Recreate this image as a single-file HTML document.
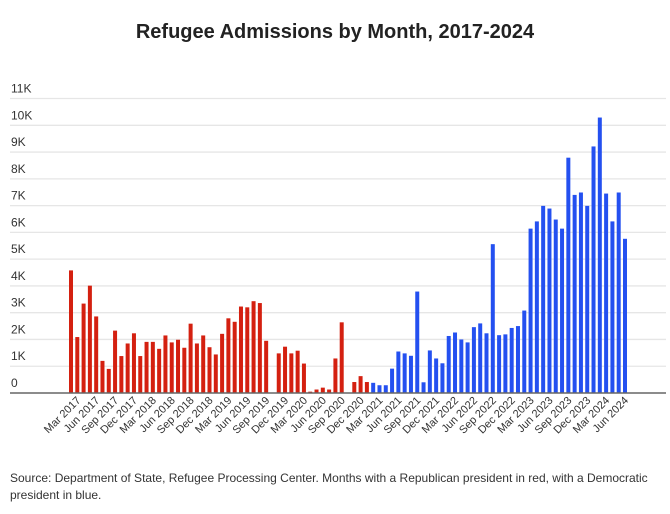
<!DOCTYPE html>
<html><head><meta charset="utf-8"><style>
body{margin:0;background:#fff;width:670px;height:509px;overflow:hidden;font-family:"Liberation Sans",sans-serif}
</style></head><body>
<svg id="c" width="670" height="509" xmlns="http://www.w3.org/2000/svg">
<text x="335" y="38" text-anchor="middle" font-size="20" font-weight="bold" fill="#222">Refugee Admissions by Month, 2017-2024</text>
<g id="grid"></g><g id="bars"></g><g id="xl"></g>
<text x="10" y="482" font-size="12" fill="#333">Source: Department of State, Refugee Processing Center. Months with a Republican president in red, with a Democratic</text>
<text x="10" y="499" font-size="12" fill="#333">president in blue.</text>
</svg>
<script>
const startYear=2017, startMonth=1; // Feb 2017 (0-indexed month)
const values=[4.58,2.09,3.34,4.01,2.86,1.2,0.9,2.33,1.38,1.85,2.23,1.38,1.91,1.91,1.65,2.15,1.89,1.99,1.69,2.59,1.85,2.15,1.71,1.44,2.21,2.79,2.66,3.23,3.2,3.43,3.36,1.95,0,1.48,1.73,1.48,1.58,1.1,0.05,0.13,0.2,0.13,1.29,2.64,0,0.41,0.63,0.41,0.38,0.29,0.29,0.91,1.55,1.48,1.39,3.79,0.4,1.59,1.29,1.11,2.13,2.26,2.0,1.89,2.46,2.6,2.23,5.56,2.16,2.19,2.43,2.5,3.08,6.14,6.41,6.99,6.89,6.48,6.14,8.79,7.4,7.49,6.99,9.21,10.29,7.45,6.41,7.49,5.76];
const firstDemIndex=48;
const yTicks=[0,1,2,3,4,5,6,7,8,9,10,11];
const monthNames=["Jan","Feb","Mar","Apr","May","Jun","Jul","Aug","Sep","Oct","Nov","Dec"];
const NS="http://www.w3.org/2000/svg";
const y0=393,pxPerK=26.77,x0=71,step=(625-71)/88;
const Y=v=>y0-v*pxPerK, X=i=>x0+i*step;
function mk(t,a,p){const e=document.createElementNS(NS,t);for(const k in a)e.setAttribute(k,a[k]);p.appendChild(e);return e;}
const g=document.getElementById('grid');
yTicks.forEach(t=>{
 if(t>0){const l=mk('line',{x1:10,x2:666,y1:Y(t),y2:Y(t),stroke:'#e6e6e6','stroke-width':1.3},g);
 
 }
 const tx=mk('text',{x:11,y:Y(t)-6,'font-size':12,fill:'#333'},g);tx.textContent=t===0?'0':t+'K';
 
 
});
const b=document.getElementById('bars');
values.forEach((v,i)=>{
 if(v<=0)return;
 const r=mk('rect',{x:X(i)-2,y:Y(v),width:4,height:y0-Y(v),fill:i>=firstDemIndex?'#2450f0':'#d42010'},b);
 
 
});
const base=mk('line',{x1:10,x2:666,y1:y0,y2:y0,stroke:'#666','stroke-width':1.5},b);


const xl=document.getElementById('xl');
values.forEach((v,i)=>{
 const m=(startMonth+i)%12, yr=startYear+Math.floor((startMonth+i)/12);
 if(m%3!==2)return;
 const x=X(i)+4,y=401;
 const t=mk('text',{x:x,y:y,'font-size':11,fill:'#333','text-anchor':'end',transform:`rotate(-45 ${x} ${y})`},xl);
 t.textContent=monthNames[m]+' '+yr;
 
 
});
</script>
</body></html>
